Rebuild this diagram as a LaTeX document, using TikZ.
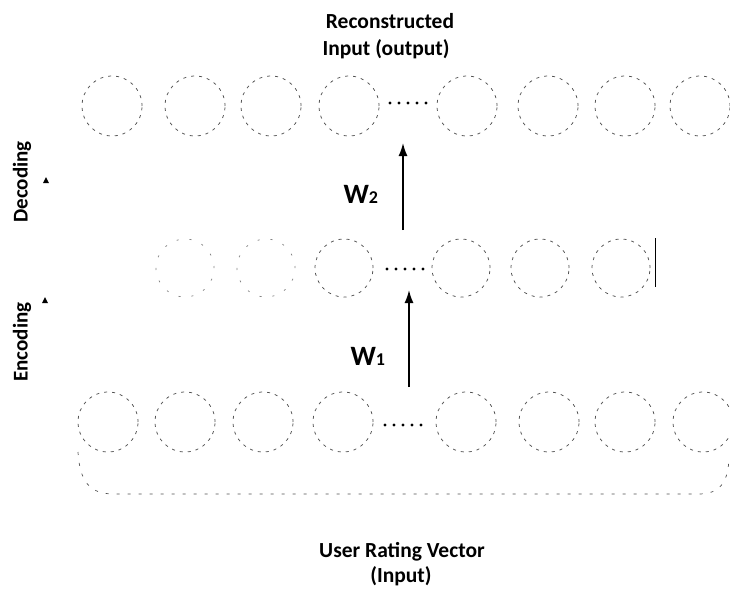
\documentclass[tikz,border=0pt]{standalone}
\usepackage{fontspec}
\setmainfont{Carlito}
\usetikzlibrary{arrows.meta}
\tikzstyle{diagram} = [x = 1pt, y = -1pt]
\definecolor{unitColor}{RGB}{80,80,80}
\tikzstyle{unitStyle} = [circle, draw=unitColor, line width=.75pt, dash pattern=on 3pt off 5pt, minimum size=60pt, inner sep=0pt]
\tikzstyle{fadedUnitStyle} = [unitStyle, draw=unitColor!70, dash pattern=on 2pt off 11pt]
\tikzstyle{bracketStyle} = [draw=unitColor, line width=.7pt, dash pattern=on 3pt off 8pt]
\tikzstyle{titleText} = [font=\fontsize{21.5}{26}\selectfont\bfseries, anchor=base]
\tikzstyle{sideText} = [font=\fontsize{21}{24}\selectfont\bfseries, rotate=90]
\tikzstyle{weightText} = [font=\fontsize{28}{30}\selectfont\bfseries, anchor=base west]
\tikzstyle{weightArrow} = [-{Latex[length=13pt,width=9pt]}, line width=1.6pt]
\newcommand{\dotRadius}{1.7pt}
\newcommand{\unitDots}[2]{
  \foreach \dotIndex in {0,...,4} {
    \fill (#1 + 9 * \dotIndex, #2) circle (\dotRadius);
  }
}
\newcommand{\sideTip}[2]{\fill (#1 - 3, #2 + 6) -- (#1, #2) -- (#1 + 3, #2 + 6) -- cycle;}
\begin{document}
\begin{tikzpicture}[diagram]
  \useasboundingbox (0,0) rectangle (730,589);

  % output layer
  \foreach \xPos [count=\i] in {112,195,271,349,467,548,625,700} {
    \node [unitStyle] (out\i) at (\xPos,106) {};
  }
  \unitDots{390}{103}

  % hidden layer
  \foreach \xPos [count=\i] in {185,266} {
    \node [fadedUnitStyle, minimum size=58pt] (hid\i) at (\xPos,268) {};
  }
  \foreach \xPos [count=\i from 3] in {344,461,540,621} {
    \node [unitStyle, minimum size=58pt] (hid\i) at (\xPos,268) {};
  }
  \unitDots{387}{269}
  \draw [line width=1pt] (655,238) -- (655,287);

  % input layer
  \foreach \xPos [count=\i] in {108,185,263,343,466,549,625,703} {
    \node [unitStyle] (in\i) at (\xPos,422) {};
  }
  \unitDots{385}{425}
  \draw [bracketStyle] (78,452) .. controls (80,488) and (95,494) .. (115,494) -- (698,494) .. controls (718,494) and (728,485) .. (729,458);

  % weights
  \coordinate (hidTop) at (403,230);
  \coordinate (outBottom) at (403,143);
  \coordinate (inTop) at (409,387);
  \coordinate (hidBottom) at (409,290);
  \draw [weightArrow] (hidTop) -- (outBottom);
  \draw [weightArrow] (inTop) -- (hidBottom);
  \node [weightText] (wTwo) at (340,203) {W{\fontsize{18}{20}\selectfont 2}};
  \node [weightText] (wOne) at (347,365) {W{\fontsize{18}{20}\selectfont 1}};

  % labels
  \node [titleText] (outTitle) at (390,28) {Reconstructed};
  \node [titleText] (outSub) at (386,55) {Input (output)};
  \node [titleText] (inTitle) at (402,557) {User Rating Vector};
  \node [titleText] (inSub) at (401,582) {(Input)};
  \node [sideText] (decLabel) at (22,182) {Decoding};
  \node [sideText] (encLabel) at (22,342) {Encoding};
  \sideTip{46}{177}
  \sideTip{45}{297}
\end{tikzpicture}
\end{document}
